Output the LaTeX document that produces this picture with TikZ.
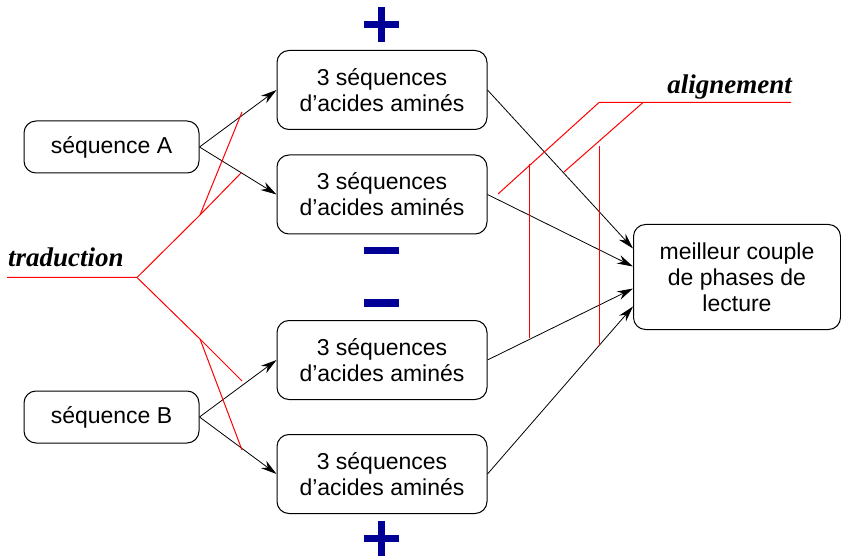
\documentclass[tikz,border=0pt]{standalone}
\usepackage{fontspec}
\setmainfont{Liberation Sans}
\newfontfamily\titfont{Liberation Serif}
\usetikzlibrary{arrows.meta}
\definecolor{bleufonce}{RGB}{0,0,150}
\tikzset{
  boite/.style = {draw=black, rounded corners=12pt, line width=1pt,
    align=center, inner sep=0pt, font=\fontsize{23}{26}\selectfont},
  seq/.style = {boite, minimum width=175pt, minimum height=52pt},% sequence d'origine
  acam/.style = {boite, minimum width=210pt, minimum height=79pt},% 3 sequences traduites
  res/.style = {boite, minimum width=207pt, minimum height=105pt},% resultat
  fleche/.style = {-{Stealth[length=16pt,width=9pt]}, line width=0.8pt},
  rouge/.style = {red, line width=1pt},% lignes de l'annotation
  titre/.style = {font=\titfont\bfseries\itshape\fontsize{27}{30}\selectfont,
    inner sep=0pt},
  signe/.style = {fill=bleufonce}% barres des + et -
}
\begin{document}
\begin{tikzpicture}[x=1pt,y=-1pt]
\useasboundingbox (0,0) rectangle (841,556);

% les boites
\node [seq] (seqA) at (111.5,147) {séquence A};
\node [seq] (seqB) at (111.5,417) {séquence B};
\node [acam] (am1) at (382,90) {3 séquences\\d’acides aminés};
\node [acam] (am2) at (382,194.5) {3 séquences\\d’acides aminés};
\node [acam] (am3) at (382,360) {3 séquences\\d’acides aminés};
\node [acam] (am4) at (382,474) {3 séquences\\d’acides aminés};
\node [res] (best) at (737,277) {meilleur couple\\de phases de\\lecture};

% fleches
\draw [fleche] (seqA.east) -- (am1.west);
\draw [fleche] (seqA.east) -- (am2.west);
\draw [fleche] (seqB.east) -- (am3.west);
\draw [fleche] (seqB.east) -- (am4.west);
\draw [fleche] (am1.east) -- ([yshift=28.5pt]best.west);
\draw [fleche] (am2.east) -- ([yshift=10.5pt]best.west);
\draw [fleche] (am3.east) -- ([yshift=-11.5pt]best.west);
\draw [fleche] (am4.east) -- ([yshift=-29.5pt]best.west);

% traduction
\coordinate (tr0) at (7,277.5);
\coordinate (tr) at (137,277.5);
\coordinate (trA) at (200,215);
\coordinate (trB) at (200,339);
\draw [rouge] (tr0) -- (tr) -- (trA) -- (242,112);
\draw [rouge] (trA) -- (241,173);
\draw [rouge] (tr) -- (trB) -- (242,381);
\draw [rouge] (trB) -- (242,450);
\node [titre, anchor=base west] (trad) at (8,267) {traduction};

% alignement
\coordinate (al0) at (791,102.5);
\coordinate (al1) at (599,102.5);
\coordinate (al2) at (643,102.5);
\draw [rouge] (al0) -- (al1) -- (498,194);
\draw [rouge] (al2) -- (564,172);
\draw [rouge] (529.5,164) -- (529.5,338);
\draw [rouge] (599.5,146) -- (599.5,346);
\node [titre, anchor=base east] (align) at (792,94) {alignement};

% les signes
\fill [signe] (364,21) rectangle (399,28);
\fill [signe] (378,7) rectangle (385,42);
\fill [signe] (364,247) rectangle (399,254.5);
\fill [signe] (364,299) rectangle (399,306.5);
\fill [signe] (364,535) rectangle (399,542);
\fill [signe] (378,521) rectangle (385,556);
\end{tikzpicture}
\end{document}
